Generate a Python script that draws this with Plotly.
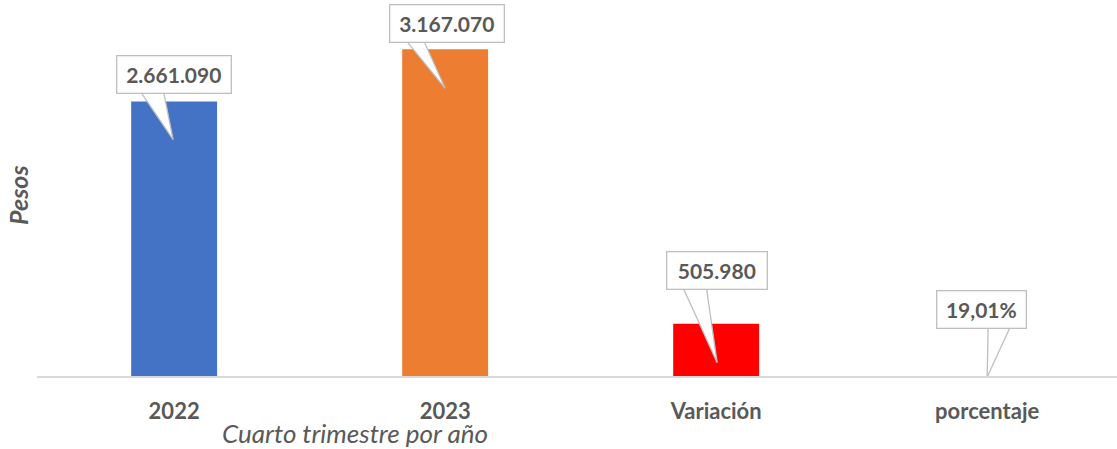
import plotly.graph_objects as go

# ---- data ----
categories = ["2022", "2023", "Variación", "porcentaje"]
values = [2661090, 3167070, 505980, 0.1901]
is_percent = [False, False, False, True]
bar_colors = ["#4472C4", "#ED7D31", "#FF0000", "#A5A5A5"]


def fmt(v, pct):
    if pct:
        return f"{v * 100:.2f}%".replace(".", ",")
    return f"{int(v):,}".replace(",", ".")


labels = [fmt(v, p) for v, p in zip(values, is_percent)]
positions = list(range(len(categories)))

# ---- callout styling (pixel offsets relative to the top-centre of each bar) ----
callouts = [
    dict(dx=-0.5, dy=8, w=105, base=(-35, -11), tip=(-1, -38)),
    dict(dx=1.5, dy=6, w=105, base=(-40, -22), tip=(0, -39)),
    dict(dx=0.5, dy=34, w=91, base=(-34, -10), tip=(1, -39)),
    dict(dx=-6, dy=47, w=80, base=(1, 24), tip=(0, -1)),
]

FONT = "Lato, 'Open Sans', sans-serif"
TXT = "#595959"
LINE = "#BFBFBF"

fig = go.Figure(
    go.Bar(
        x=positions,
        y=values,
        marker=dict(color=bar_colors, line=dict(width=0)),
        width=0.317,
        hoverinfo="skip",
    )
)

shapes = []
annotations = []
for p, v, lab, c in zip(positions, values, labels, callouts):
    bx0, bx1 = c["base"]
    by = c["dy"] + 4
    tx, ty = c["tip"]
    shapes.append(
        dict(
            type="path",
            xref="x", yref="y",
            xsizemode="pixel", ysizemode="pixel",
            xanchor=p, yanchor=v,
            path=f"M {bx0},{by} L {tx},{ty} L {bx1},{by} Z",
            fillcolor="white",
            line=dict(color=LINE, width=1.3),
            layer="above",
        )
    )
    annotations.append(
        dict(
            x=p, y=v, xref="x", yref="y",
            text=f"<b>{lab}</b>",
            showarrow=False,
            xanchor="center", yanchor="bottom",
            xshift=c["dx"], yshift=c["dy"],
            width=c["w"], height=28,
            bgcolor="white",
            bordercolor=LINE, borderwidth=1.3, borderpad=4,
            font=dict(family=FONT, size=21, color=TXT),
        )
    )

annotations.append(
    dict(
        x=0.294, y=0, xref="paper", yref="paper",
        xanchor="center", yanchor="middle", yshift=-57,
        text="<i>Cuarto trimestre por año</i>",
        showarrow=False,
        font=dict(family=FONT, size=26, color=TXT),
    )
)
annotations.append(
    dict(
        x=0, y=0, xref="paper", yref="y",
        xanchor="center", yanchor="middle",
        xshift=-19, yshift=181,
        text="<b><i>Pesos</i></b>",
        textangle=-90,
        showarrow=False,
        font=dict(family=FONT, size=25, color=TXT),
    )
)

fig.update_layout(
    width=1117,
    height=449,
    margin=dict(l=37, r=0, t=15, b=73),
    paper_bgcolor="white",
    plot_bgcolor="white",
    showlegend=False,
    shapes=shapes,
    annotations=annotations,
    xaxis=dict(
        range=[-0.506, 3.479],
        tickmode="array",
        tickvals=positions,
        ticktext=[f"<b>{c}</b>" for c in categories],
        showline=True,
        linecolor="#D9D9D9",
        linewidth=1.5,
        showgrid=False,
        zeroline=False,
        ticks="outside",
        ticklen=15,
        tickcolor="rgba(0,0,0,0)",
        tickfont=dict(family=FONT, size=22, color=TXT),
    ),
    yaxis=dict(
        range=[0, 3500000],
        visible=False,
        showgrid=False,
        zeroline=False,
    ),
)

fig.write_html(
    "out.html",
    config={"displayModeBar": False},
    post_script="document.body.style.margin='0';document.body.style.overflow='hidden';",
)
